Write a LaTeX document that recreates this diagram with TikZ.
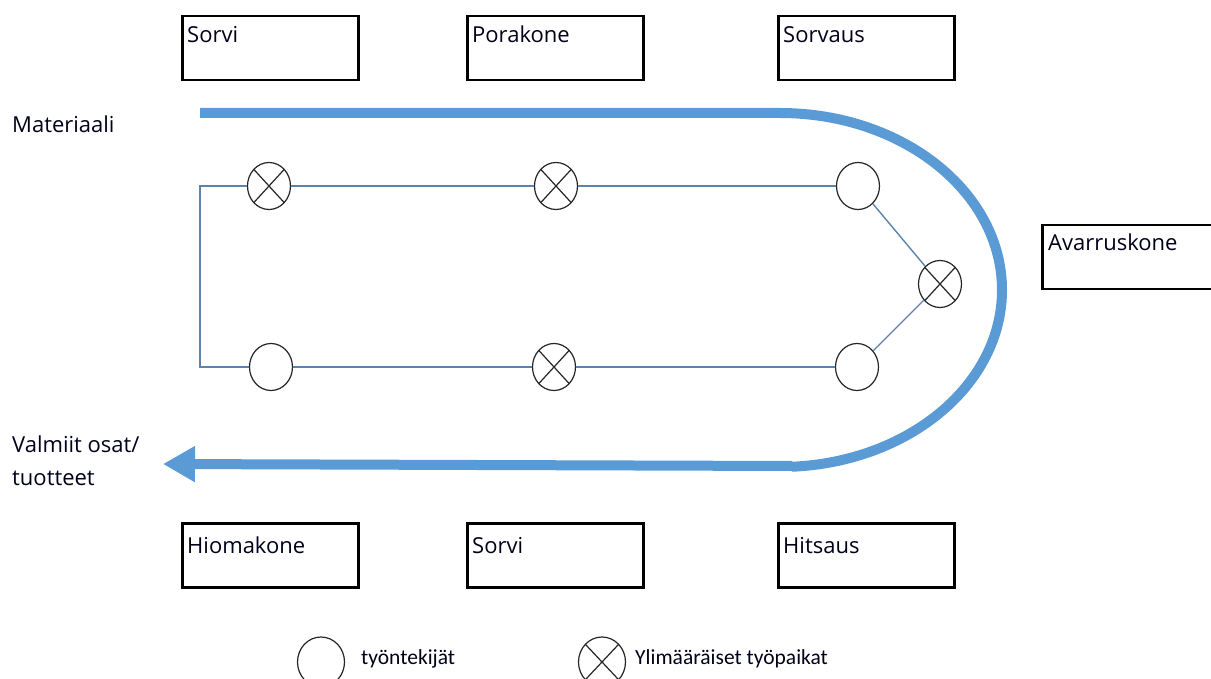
\documentclass[tikz,border=0pt]{standalone}
\usepackage{fontspec}
\setmainfont{Open Sans}
\newfontfamily\legendfont{Carlito}
\usetikzlibrary{shapes.geometric,arrows.meta}
\definecolor{flowblue}{HTML}{5B9BD5}
\definecolor{linkblue}{HTML}{5A84AE}
\begin{document}
\begin{tikzpicture}[x=1pt,y=-1pt,
  mbox/.style={draw=black,line width=2.5pt,rectangle,minimum width=176pt,minimum height=64pt,anchor=north west,inner sep=0pt},
  lbl/.style={anchor=base west,inner sep=0pt,font=\fontsize{22}{33}\selectfont,text=black!90!blue},
  leg/.style={anchor=base west,inner sep=0pt,font=\legendfont\fontsize{21.5}{26}\selectfont,text=black!90!blue},
  worker/.style={ellipse,draw=black!85,line width=1.2pt,fill=white,minimum width=43pt,minimum height=47pt,inner sep=0pt},
  extra/.style={worker,path picture={
      \draw[black!85,line width=1.2pt] (path picture bounding box.south west) -- (path picture bounding box.north east)
        (path picture bounding box.north west) -- (path picture bounding box.south east);}},
  link/.style={draw=linkblue,line width=1.4pt},
  flow/.style={draw=flowblue,line width=10pt}
]
\useasboundingbox (0,0) rectangle (1211,679);
% boxes
\node[mbox] (b1) at (181,15) {};
\node[mbox] (b2) at (466,15) {};
\node[mbox] (b3) at (777,15) {};
\node[mbox] (b4) at (181,522) {};
\node[mbox] (b5) at (466,522) {};
\node[mbox] (b6) at (777,522) {};
\node[mbox] (b7) at (1041,224) {};
\node[lbl] (l1) at (187,43) {Sorvi};
\node[lbl] (l2) at (472,43) {Porakone};
\node[lbl] (l3) at (783,43) {Sorvaus};
\node[lbl] (l4) at (187,553) {Hiomakone};
\node[lbl] (l5) at (472,553) {Sorvi};
\node[lbl] (l6) at (783,553) {Hitsaus};
\node[lbl] (l7) at (1048,251) {Avarruskone};
\node[lbl] (mat) at (12,133) {Materiaali};
\node[lbl] (val1) at (12,452) {Valmiit osat/};
\node[lbl] (val2) at (12,485) {tuotteet};
% flow arrow
\coordinate (fs) at (200,113);
\coordinate (fc) at (780,113);
\coordinate (fe) at (792,466);
\coordinate (ft) at (163,464);
\draw[flow] (fs) -- (fc) arc[start angle=90,end angle=-87,x radius=222pt,y radius=177pt];
\draw[flow,-{Triangle[length=32pt,width=34pt]}] (fe) -- (ft);
% workstations
\coordinate (cTL) at (200,186);
\coordinate (cBL) at (200,367);
\node[extra] (t1) at (269,186) {};
\node[extra] (t2) at (556,186) {};
\node[worker] (t3) at (858,186) {};
\node[extra] (xr) at (940,284) {};
\node[worker] (u3) at (857,367) {};
\node[extra] (u2) at (554,367) {};
\node[worker] (u1) at (271,367) {};
\draw[link] (t1.west) -- (cTL) -- (cBL) -- (u1.west);
\draw[link] (t1) -- (t2);
\draw[link] (t2) -- (t3);
\draw[link] (t3) -- (xr);
\draw[link] (xr) -- (u3);
\draw[link] (u3) -- (u2);
\draw[link] (u2) -- (u1);
% legend
\node[worker,minimum width=47pt,minimum height=50pt] (lc) at (321,662) {};
\node[extra,minimum width=47pt,minimum height=50pt] (lx) at (602,662) {};
\node[leg] (lt1) at (361,664) {työntekijät};
\node[leg] (lt2) at (635,664) {Ylimääräiset työpaikat};
\end{tikzpicture}
\end{document}
